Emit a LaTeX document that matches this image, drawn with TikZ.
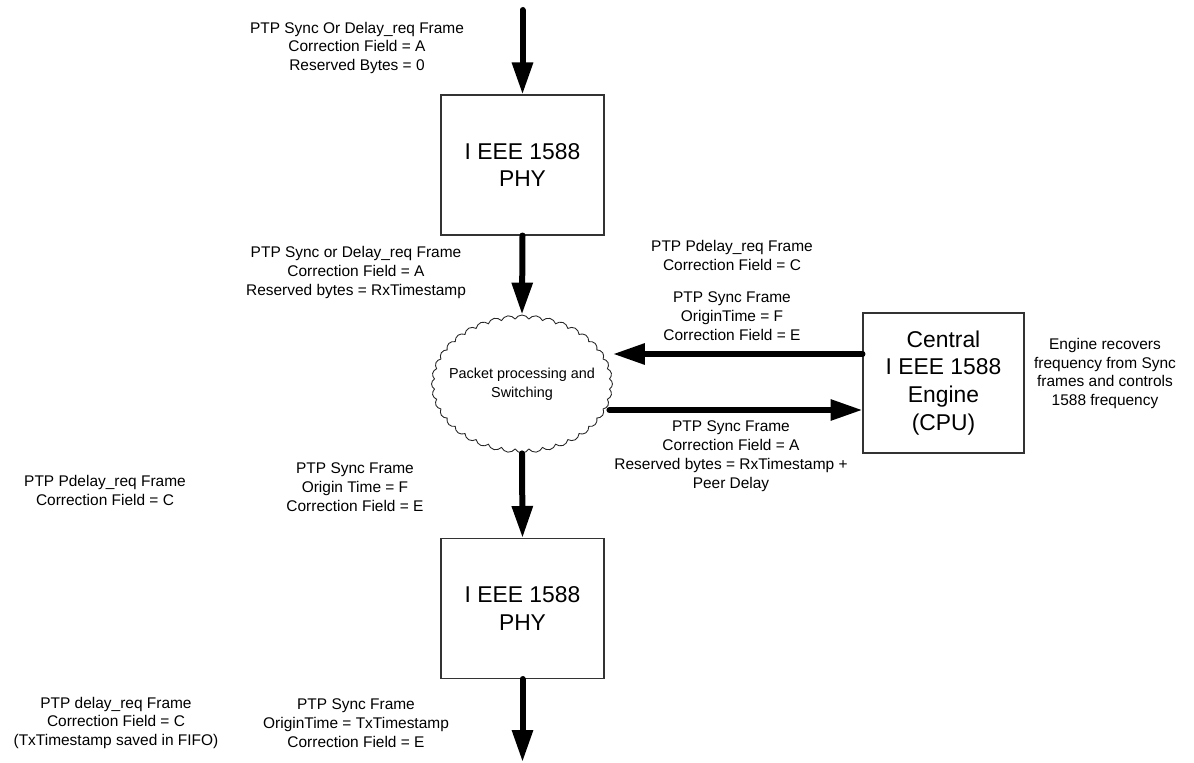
\documentclass[tikz,border=0pt]{standalone}
\usepackage{fontspec}
\setmainfont{Liberation Sans}
\usetikzlibrary{positioning, shapes.symbols, arrows.meta}

\begin{document}
\begin{tikzpicture}[x=0.02cm, y=-0.02cm,
    phybox/.style={draw=black!80, line width=0.6pt, minimum width=3.26cm, minimum height=2.8cm, align=center, font=\fontsize{13}{15.9}\selectfont},
    switchcloud/.style={cloud, draw=black!85, line width=0.5pt, cloud puffs=40, cloud puff arc=120, minimum width=3.62cm, minimum height=2.76cm, inner sep=0pt},
    cloudtext/.style={align=center, inner sep=0pt, font=\fontsize{8.2}{10.8}\selectfont},
    note/.style={align=center, inner sep=0pt, font=\fontsize{8.8}{10.8}\selectfont},
    fatarrow/.style={line width=0.12cm, line cap=round, -{Triangle[length=0.64cm, width=0.4cm]}}
  ]
    \useasboundingbox (0,0) rectangle (1194,763);

    % Draw blocks
    \node[phybox] (phyin) at (522.5,165) {I EEE 1588\\PHY};
    \node[switchcloud] (switch) at (522,384) {};
    \node[cloudtext] (switchtext) at (switch.center) {Packet processing and\\Switching};
    \node[phybox, minimum width=3.22cm] (cpu) at (943.5,383) {Central\\I EEE 1588\\Engine\\(CPU)};
    \node[phybox] (phyout) at (522.5,608.5) {I EEE 1588\\PHY};

    % Free ends and rows of the side arrows
    \coordinate (wirein) at (522.5,10);
    \coordinate (wireout) at (522.5,762);
    \coordinate (backrow) at (0,354);
    \coordinate (fwdrow) at (0,410);

    % Draw arrows
    \draw[fatarrow] (wirein) -- (phyin.north);
    \draw[fatarrow] (phyin.south) -- (switch.north);
    \draw[fatarrow] (cpu.west |- backrow) -- (switch.east |- backrow);
    \draw[fatarrow] ([xshift=-2pt]switch.east |- fwdrow) -- (cpu.west |- fwdrow);
    \draw[fatarrow] (switch.south) -- (phyout.north);
    \draw[fatarrow] (phyout.south) -- (wireout);

    % Frame labels
    \foreach \n/\x/\y/\t in {
      lbltop/357/48/{PTP Sync Or Delay\_req Frame\\Correction Field = A\\Reserved Bytes = 0},
      lblin/356/272.5/{PTP Sync or Delay\_req Frame\\Correction Field = A\\Reserved bytes = RxTimestamp},
      lblpdelay/732/255.5/{PTP Pdelay\_req Frame\\Correction Field = C},
      lblsyncback/732/316/{PTP Sync Frame\\OriginTime = F\\Correction Field = E},
      lblsyncfwd/731/456/{PTP Sync Frame\\Correction Field = A\\Reserved bytes = RxTimestamp +\\Peer Delay},
      lblengine/1105/373.5/{Engine recovers\\frequency from Sync\\frames and controls\\1588 frequency},
      lblpdelayleft/105/490.5/{PTP Pdelay\_req Frame\\Correction Field = C},
      lblsyncdown/355/487/{PTP Sync Frame\\Origin Time = F\\Correction Field = E},
      lbldelayout/116/723/{PTP delay\_req Frame\\Correction Field = C\\(TxTimestamp saved in FIFO)},
      lblsyncout/356/723/{PTP Sync Frame\\OriginTime = TxTimestamp\\Correction Field = E}} {
      \node[note] (\n) at (\x,\y) {\t};
    }
\end{tikzpicture}
\end{document}
